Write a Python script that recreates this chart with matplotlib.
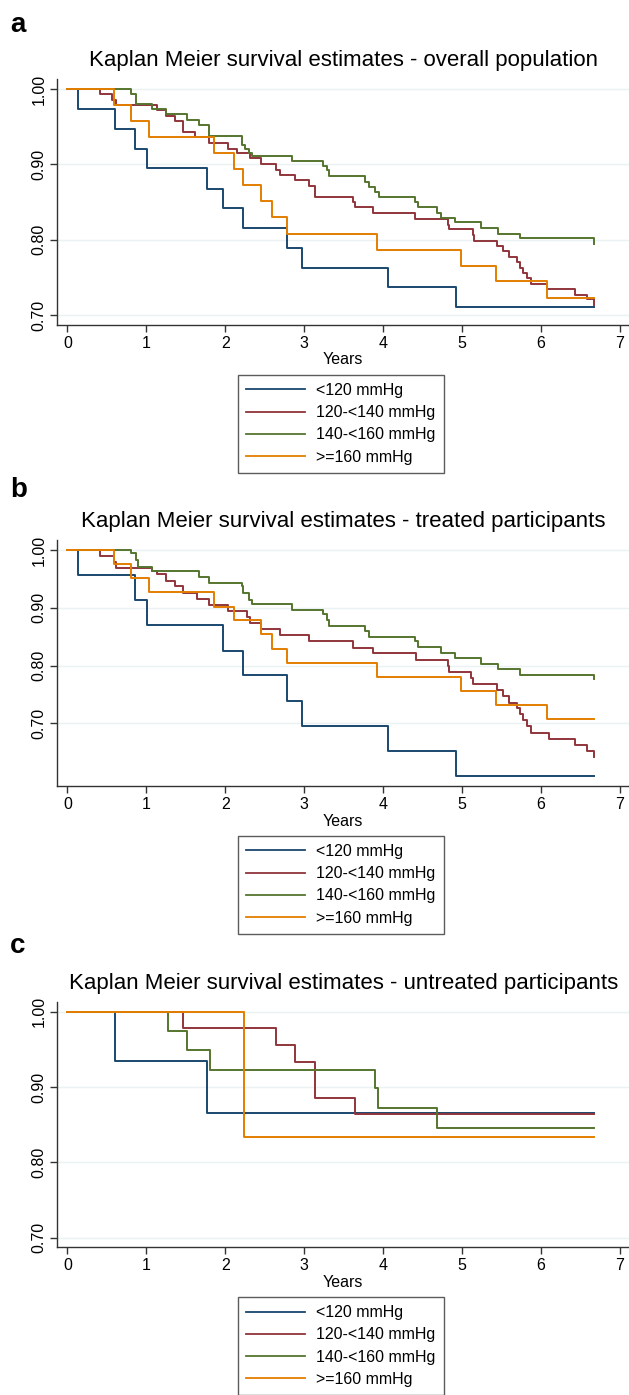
import matplotlib
matplotlib.use("Agg")
import matplotlib.pyplot as plt
from matplotlib.lines import Line2D

plt.rcParams['font.family'] = ['Liberation Sans', 'DejaVu Sans']

labels = ["<120 mmHg", "120-<140 mmHg", "140-<160 mmHg", ">=160 mmHg"]
colors = ["#1a476f", "#90353b", "#55752f", "#e37e00"]
titles = ["Kaplan Meier survival estimates - overall population",
          "Kaplan Meier survival estimates - treated participants",
          "Kaplan Meier survival estimates - untreated participants"]
panel_letters = ["a", "b", "c"]
end_time = 6.67

# ---- panel a: overall population (event times, survival after event)
a_blue_t = [0.13, 0.605, 0.86, 1.007, 1.775, 1.97, 2.23, 2.79, 2.98, 4.06, 4.93]
a_blue_s = [0.974, 0.947, 0.921, 0.895, 0.868, 0.842, 0.816, 0.789, 0.763, 0.737, 0.711]
a_red_t = [0.417, 0.57, 0.62, 1.13, 1.256, 1.367, 1.47, 1.62, 1.79, 2.03, 2.145, 2.31,
           2.46, 2.64, 2.70, 2.88, 3.06, 3.14, 3.62, 3.646, 3.874, 4.41, 4.825, 4.84,
           5.14, 5.155, 5.45, 5.526, 5.60, 5.70, 5.74, 5.78, 5.83, 5.88, 6.085, 6.44,
           6.59, 6.67]
a_red_s = [0.993, 0.986, 0.979, 0.972, 0.964, 0.957, 0.943, 0.937, 0.929, 0.921, 0.915,
           0.908, 0.900, 0.893, 0.886, 0.879, 0.871, 0.857, 0.850, 0.843, 0.836, 0.827,
           0.820, 0.814, 0.806, 0.799, 0.792, 0.785, 0.777, 0.770, 0.763, 0.756, 0.749,
           0.742, 0.735, 0.727, 0.721, 0.713]
a_green_t = [0.80, 0.874, 1.078, 1.256, 1.51, 1.673, 1.79, 1.80, 2.217, 2.25, 2.308,
             2.339, 2.842, 3.244, 3.29, 3.315, 3.772, 3.823, 3.90, 3.95, 4.408, 4.443,
             4.687, 4.738, 4.916, 5.247, 5.465, 5.74, 6.67]
a_green_s = [0.994, 0.980, 0.974, 0.967, 0.959, 0.952, 0.946, 0.938, 0.926, 0.921, 0.915,
             0.911, 0.905, 0.898, 0.892, 0.884, 0.877, 0.870, 0.864, 0.857, 0.850, 0.843,
             0.836, 0.829, 0.823, 0.815, 0.808, 0.802, 0.795]
a_orange_t = [0.595, 0.81, 1.04, 1.855, 2.115, 2.23, 2.455, 2.59, 2.78, 3.925, 4.99,
              5.44, 6.08]
a_orange_s = [0.979, 0.958, 0.937, 0.915, 0.894, 0.873, 0.851, 0.830, 0.808, 0.787,
              0.765, 0.745, 0.723]

# ---- panel b: treated participants
b_blue_t = [0.13, 0.86, 1.007, 1.97, 2.23, 2.79, 2.98, 4.06, 4.93]
b_blue_s = [0.957, 0.913, 0.870, 0.826, 0.783, 0.739, 0.696, 0.652, 0.609]
b_red_t = [0.417, 0.585, 0.62, 1.078, 1.13, 1.256, 1.367, 1.47, 1.637, 1.79, 2.03,
           2.28, 2.32, 2.46, 2.70, 3.06, 3.62, 3.874, 4.42, 4.825, 4.84, 5.12, 5.14,
           5.45, 5.526, 5.60, 5.70, 5.74, 5.78, 5.83, 5.88, 6.10, 6.44, 6.59, 6.67]
b_red_s = [0.989, 0.979, 0.969, 0.963, 0.958, 0.947, 0.937, 0.926, 0.916, 0.905, 0.895,
           0.884, 0.874, 0.863, 0.852, 0.842, 0.831, 0.821, 0.810, 0.799, 0.789, 0.779,
           0.768, 0.758, 0.747, 0.736, 0.726, 0.716, 0.705, 0.695, 0.684, 0.673, 0.662,
           0.652, 0.641]
b_green_t = [0.80, 0.874, 0.89, 1.078, 1.673, 1.79, 2.217, 2.232, 2.308, 2.339, 2.842,
             3.244, 3.29, 3.315, 3.772, 3.823, 4.408, 4.443, 4.738, 4.916, 5.247, 5.465,
             5.74, 6.67]
b_green_s = [0.994, 0.983, 0.971, 0.963, 0.954, 0.943, 0.937, 0.925, 0.913, 0.906, 0.897,
             0.889, 0.879, 0.869, 0.860, 0.850, 0.842, 0.832, 0.821, 0.813, 0.803, 0.794,
             0.784, 0.776]
b_orange_t = [0.595, 0.81, 1.04, 1.855, 2.115, 2.455, 2.59, 2.78, 3.925, 4.99, 5.44, 6.08]
b_orange_s = [0.976, 0.952, 0.927, 0.902, 0.878, 0.854, 0.829, 0.805, 0.780, 0.756,
              0.732, 0.707]

# ---- panel c: untreated participants
c_blue_t = [0.605, 1.775]
c_blue_s = [0.934, 0.866]
c_red_t = [1.47, 2.64, 2.89, 3.14, 3.646]
c_red_s = [0.978, 0.956, 0.933, 0.886, 0.864]
c_green_t = [1.27, 1.52, 1.805, 3.895, 3.94, 4.687]
c_green_s = [0.974, 0.949, 0.923, 0.898, 0.872, 0.846]
c_orange_t = [2.237]
c_orange_s = [0.833]

panels = [
    [(a_blue_t, a_blue_s), (a_red_t, a_red_s), (a_green_t, a_green_s), (a_orange_t, a_orange_s)],
    [(b_blue_t, b_blue_s), (b_red_t, b_red_s), (b_green_t, b_green_s), (b_orange_t, b_orange_s)],
    [(c_blue_t, c_blue_s), (c_red_t, c_red_s), (c_green_t, c_green_s), (c_orange_t, c_orange_s)],
]
ylims = [(0.687, 1.0133), (0.5915, 1.0173), (0.687, 1.0133)]
yticks = [0.70, 0.80, 0.90, 1.00]
xticks = [0, 1, 2, 3, 4, 5, 6, 7]

W, H = 629, 1395
fig = plt.figure(figsize=(W / 100, H / 100), dpi=100)

# pixel boxes (top, bottom) of the three plot areas
boxes = [(79, 325), (540, 786), (1001.7, 1247.3)]
left_px = 57.4
letter_y = [25, 490, 946]

for i, (top, bot) in enumerate(boxes):
    ax = fig.add_axes([left_px / W, 1 - bot / H, (W - left_px) / W, (bot - top) / H])
    for (t, s), col in zip(panels[i], colors):
        xs = [0.0] + list(t)
        ys = [1.0] + list(s)
        if xs[-1] < end_time:
            xs.append(end_time)
            ys.append(ys[-1])
        ax.plot(xs, ys, drawstyle='steps-post', color=col, lw=1.4)
    ax.set_xlim(-0.127, 7.12)
    ax.set_ylim(*ylims[i])
    ax.set_yticks(yticks)
    ax.set_yticklabels([f"{v:.2f}" for v in yticks], rotation=90, va='center')
    ax.set_xticks(xticks)
    ax.set_xticklabels([str(v) for v in xticks])
    ax.grid(axis='y', color='#eaf2f3', lw=1.0)
    ax.set_axisbelow(True)
    for sp in ['top', 'right']:
        ax.spines[sp].set_visible(False)
    for sp in ['left', 'bottom']:
        ax.spines[sp].set_color('#333333')
        ax.spines[sp].set_linewidth(1.0)
    ax.tick_params(axis='both', length=5, width=1.0, color='#333333', labelsize=11.5,
                   pad=3)
    ax.set_xlabel("Years", fontsize=11.5, labelpad=1)
    fig.text((left_px + W) / 2 / W, 1 - (top - 18.5) / H, titles[i], ha='center',
             va='center', fontsize=16)
    fig.text(10 / W, 1 - letter_y[i] / H, panel_letters[i], ha='left', va='center',
             fontsize=20, fontweight='bold')
    handles = [Line2D([0], [0], color=c, lw=1.3) for c in colors]
    leg = fig.legend(handles, labels, loc='upper left',
                     bbox_to_anchor=(238 / W, 1 - (bot + 50) / H),
                     bbox_transform=fig.transFigure, borderaxespad=0,
                     fontsize=11.5, frameon=True, fancybox=False, handlelength=3.7,
                     handletextpad=0.7, labelspacing=0.45, borderpad=0.5)
    leg.get_frame().set_edgecolor('#333333')
    leg.get_frame().set_linewidth(1.0)

fig.savefig("out.png", dpi=100)
